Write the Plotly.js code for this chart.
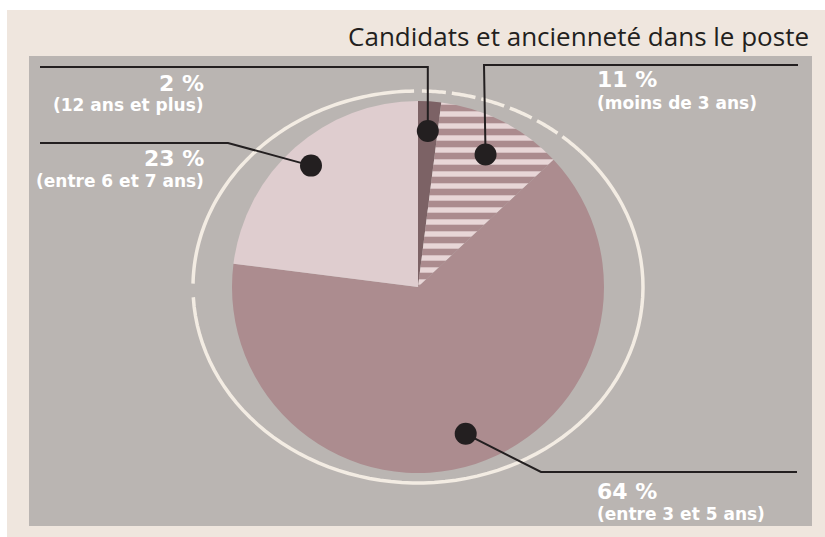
<!DOCTYPE html>
<html>
<head>
<meta charset="utf-8">
<script src="https://cdn.plot.ly/plotly-3.0.1.min.js"></script>
<style>html,body{margin:0;padding:0;background:#fff;}#chart{width:825px;height:537px;}</style>
</head>
<body>
<div id="chart"></div>
<script>
// ---- data ----
const categories = ["12 ans et plus", "moins de 3 ans", "entre 3 et 5 ans", "entre 6 et 7 ans"];
const values = [2, 11, 64, 23];
const valueLabels = ["2 %", "11 %", "64 %", "23 %"];
const subLabels = ["(12 ans et plus)", "(moins de 3 ans)", "(entre 3 et 5 ans)", "(entre 6 et 7 ans)"];
const titleText = "Candidats et ancienneté dans le poste";

// ---- style / layout ----
const W = 825, H = 537;
const CX = 418, CY = 287, R = 186;
const sliceColors = ["#7c6265", "#ab8b8e", "#ac8c8f", "#dfcdcf"];
const patternShapes = ["", "-", "", ""];
const dotRadius = [0.84, 0.80, 0.83, 0.87];           // fraction of pie radius for marker dots
// leader elbow and end points (pixels), and label anchors
const elbows = [[null, 67], [484, 65], [541, 472], [228, 143]];
const lineEnds = [40, 798, 797, 40];
const labelX = [206, 595, 595, 206];
const labelAnchor = ["right", "left", "left", "right"];
const labelY1 = [83, 79, 491, 158];
const labelY2 = [105, 103, 514, 181];

const px = x => x / W;
const py = y => 1 - y / H;

const shapes = [];
// outer beige panel and grey plot panel
shapes.push({type: "rect", xref: "paper", yref: "paper", x0: px(7), x1: px(825), y0: py(10), y1: py(537),
  fillcolor: "#efe6de", line: {width: 0}, layer: "below"});
shapes.push({type: "rect", xref: "paper", yref: "paper", x0: px(29), x1: px(812), y0: py(56), y1: py(526),
  fillcolor: "#bab5b2", line: {width: 0}, layer: "below"});

// ring around pie (ellipse decoration)
const RX = 225, RY = 196, RCY = 287;
function arcPath(a0, a1) {
  let d = "";
  const n = 80;
  for (let i = 0; i <= n; i++) {
    const a = (a0 + (a1 - a0) * i / n) * Math.PI / 180;
    const x = CX + RX * Math.sin(a), y = RCY - RY * Math.cos(a);
    d += (i === 0 ? "M" : "L") + px(x).toFixed(5) + "," + py(y).toFixed(5) + " ";
  }
  return d;
}
shapes.push({type: "path", xref: "paper", yref: "paper", path: arcPath(46, 267), line: {color: "#f3ece3", width: 3.5}, layer: "below"});
shapes.push({type: "path", xref: "paper", yref: "paper", path: arcPath(271, 359), line: {color: "#f3ece3", width: 3.5}, layer: "below"});
shapes.push({type: "path", xref: "paper", yref: "paper", path: arcPath(1, 46), line: {color: "#f3ece3", width: 3.5, dash: "24px,6px"}, layer: "below"});

// dots + leader lines computed from slice mid-angles
const total = values.reduce((a, b) => a + b, 0);
let cum = 0;
const annotations = [];
values.forEach((v, i) => {
  const mid = (cum + v / 2) / total * 2 * Math.PI;
  cum += v;
  const rr = R * dotRadius[i];
  const dx = CX + rr * Math.sin(mid), dy = CY - rr * Math.cos(mid);
  const ex = elbows[i][0] === null ? dx : elbows[i][0];
  const ey = elbows[i][1];
  shapes.push({type: "path", xref: "paper", yref: "paper",
    path: `M${px(lineEnds[i])},${py(ey)} L${px(ex)},${py(ey)} L${px(dx)},${py(dy)}`,
    line: {color: "#231f20", width: 2}});
  shapes.push({type: "circle", xref: "paper", yref: "paper",
    x0: px(dx - 11), x1: px(dx + 11), y0: py(dy + 11), y1: py(dy - 11),
    fillcolor: "#231f20", line: {width: 0}});
  annotations.push({xref: "paper", yref: "paper", x: px(labelX[i]), y: py(labelY1[i]), xanchor: labelAnchor[i], yanchor: "middle",
    text: "<b>" + valueLabels[i] + "</b>", showarrow: false, font: {family: "DejaVu Sans", size: 22, color: "#ffffff"}});
  annotations.push({xref: "paper", yref: "paper", x: px(labelX[i]), y: py(labelY2[i]), xanchor: labelAnchor[i], yanchor: "middle",
    text: "<b>" + subLabels[i] + "</b>", showarrow: false, font: {family: "DejaVu Sans", size: 17, color: "#ffffff"}});
});

const trace = {
  type: "pie",
  labels: categories,
  values: values,
  sort: false,
  direction: "clockwise",
  rotation: 0,
  textinfo: "none",
  hoverinfo: "label+percent",
  marker: {
    colors: sliceColors,
    line: {width: 0},
    pattern: {shape: patternShapes, fgcolor: "#e8d6d7", bgcolor: sliceColors, size: 12, solidity: 0.45}
  },
  domain: {x: [px(CX - R), px(CX + R)], y: [py(CY + R), py(CY - R)]},
  showlegend: false
};

const layout = {
  width: W, height: H,
  margin: {l: 0, r: 0, t: 0, b: 0, pad: 0},
  paper_bgcolor: "#ffffff",
  showlegend: false,
  title: {text: titleText, x: px(809), xanchor: "right", y: py(37), yanchor: "middle",
    font: {family: "Open Sans", size: 26, color: "#231f20"}},
  shapes: shapes,
  annotations: annotations
};

Plotly.newPlot("chart", [trace], layout, {displayModeBar: false, staticPlot: true});
</script>
</body>
</html>
